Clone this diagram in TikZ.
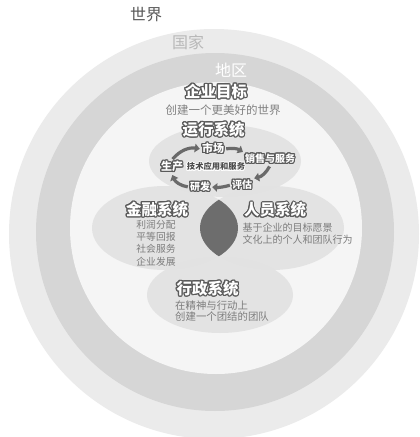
\documentclass[tikz,border=0pt]{standalone}
\usepackage{fontspec}
\setmainfont{Noto Sans CJK SC}
\usepackage[copies]{contour}
\contournumber{16}
\usetikzlibrary{arrows.meta}
\definecolor{ringouter}{HTML}{EBEBEB}
\definecolor{ringmid}{HTML}{D6D6D6}
\definecolor{ringinner}{HTML}{F5F5F5}
\definecolor{ellc}{HTML}{E2E2E2}
\definecolor{lensc}{HTML}{6D6D6D}
\definecolor{glowc}{HTML}{5A5A5A}
\definecolor{bodyc}{HTML}{7C7C7C}
\definecolor{arrc}{HTML}{6A6A6A}
\newcommand{\glowtxt}[1]{\contourlength{1.1pt}\contour{glowc}{#1}}
\newcommand{\haloTxt}[1]{\contourlength{0.8pt}\contour{white}{#1}}
\begin{document}
\begin{tikzpicture}[x=1pt,y=-1pt,
  titlebox/.style={font=\fontsize{15.5}{17}\selectfont\bfseries, text=white, inner sep=0pt},
  cyclabel/.style={font=\fontsize{10}{12}\selectfont\bfseries, text=white, inner sep=1pt},
  bodytxt/.style={font=\fontsize{10}{12}\selectfont, text=bodyc, inner sep=0pt},
  cycarrow/.style={draw=arrc, line width=3.2pt, -{Triangle[length=5pt,width=8.5pt]}, shorten <=1pt, shorten >=1pt},
  sysell/.style={fill=ellc, opacity=0.9}
]
\useasboundingbox (0,0) rectangle (420,437);
\fill[white] (0,0) rectangle (420,437);
% rings
\fill[ringouter] (214,234) circle (205pt);
\fill[ringmid] (215,232) circle (179pt);
\fill[ringinner] (216,228) circle (146pt);
% system ellipses
\fill[sysell] (225,161) ellipse (76pt and 36pt);
\fill[sysell] (165,228) ellipse (73pt and 42pt);
\fill[sysell] (272,228) ellipse (72pt and 42pt);
\fill[sysell] (220,295) ellipse (73pt and 38pt);
% lens
\begin{scope}
  \clip (165,228) ellipse (73pt and 42pt);
  \fill[lensc] (272,228) ellipse (72pt and 42pt);
\end{scope}
% ring labels
\node[font=\fontsize{16}{18}\selectfont, text=black!65] (world) at (146,15) {世界};
\node[font=\fontsize{16}{18}\selectfont, text=black!28] (country) at (188,42) {国家};
\node[font=\fontsize{16}{18}\selectfont, text=white] (region) at (231,70) {地区};
% goal
\node[titlebox] (goal) at (216,92) {\glowtxt{企业目标}};
\node[font=\fontsize{11.5}{13}\selectfont, text=black!50, inner sep=0pt] (goaltxt) at (223,110) {创建一个更美好的世界};
% operation system
\node[titlebox] (ops) at (213.5,130) {\glowtxt{运行系统}};
\node[cyclabel, font=\fontsize{11}{12}\selectfont\bfseries] (market) at (213,149) {\glowtxt{市场}};
\node[cyclabel] (sales) at (270,159) {\glowtxt{销售与服务}};
\node[cyclabel] (eval) at (242,185) {\glowtxt{评估}};
\node[cyclabel] (rd) at (200,187) {\glowtxt{研发}};
\node[cyclabel, font=\fontsize{11}{12}\selectfont\bfseries] (prod) at (172,167) {\glowtxt{生产}};
\node[font=\fontsize{8.3}{10}\selectfont\bfseries, text=black!70, inner sep=0pt] (tech) at (216,167) {\haloTxt{技术应用和服务}};
\draw[cycarrow] (market.east) to[bend left=20] (sales.north west);
\draw[cycarrow] (sales.south) to[bend left=25] (eval.north east);
\draw[cycarrow] (eval.west) to[bend left=10] (rd.east);
\draw[cycarrow] (rd.west) to[bend left=30] (prod.south);
\draw[cycarrow] (prod.north) to[bend left=30] (market.west);
% finance system
\node[titlebox] (fin) at (157,210) {\glowtxt{金融系统}};
\node[bodytxt, align=center, font=\fontsize{9.8}{12.2}\selectfont] (fintxt) at (156,243) {利润分配\\平等回报\\社会服务\\企业发展};
% people system
\node[titlebox] (ppl) at (275,210.5) {\glowtxt{人员系统}};
\node[bodytxt, align=left, anchor=west, font=\fontsize{10}{11.8}\selectfont] (ppltxt) at (242.5,234) {基于企业的目标愿景\\文化上的个人和团队行为};
% admin system
\node[titlebox] (adm) at (207.5,289) {\glowtxt{行政系统}};
\node[bodytxt, align=left, anchor=west, font=\fontsize{10.4}{11.8}\selectfont] (admtxt) at (175,311) {在精神与行动上\\创建一个团结的团队};
\end{tikzpicture}
\end{document}
